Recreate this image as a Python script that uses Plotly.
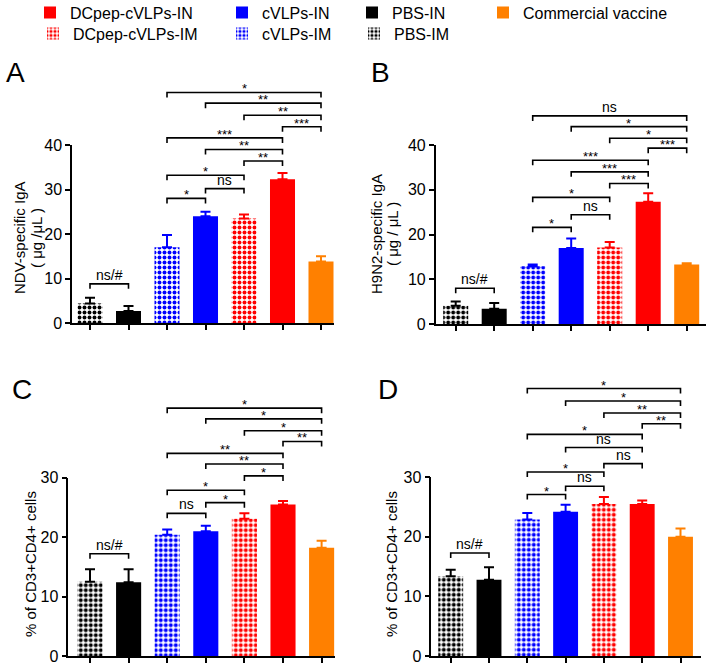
import plotly.graph_objects as go

# groups in plotting order (left to right)
groups = ['PBS-IM', 'PBS-IN', 'cVLPs-IM', 'cVLPs-IN',
          'DCpep-cVLPs-IM', 'DCpep-cVLPs-IN', 'Commercial vaccine']
colors = ['#000000', '#000000', '#0000FF', '#0000FF', '#FF0000', '#FF0000', '#FF8000']
checked = [True, False, True, False, True, False, False]

# A: NDV-specific IgA (ug/uL), mean and SD
ndv_iga = [4.4, 2.7, 17.0, 24.0, 23.5, 32.3, 13.8]
ndv_iga_sd = [1.3, 1.1, 2.8, 1.0, 0.9, 1.4, 1.2]
# B: H9N2-specific IgA (ug/uL)
h9n2_iga = [4.1, 3.4, 12.9, 17.0, 17.1, 27.3, 13.3]
h9n2_iga_sd = [0.9, 1.3, 0.4, 2.1, 1.2, 1.9, 0.3]
# C, D: % of CD3+CD4+ cells
cd4_c = [12.5, 12.4, 20.4, 21.0, 23.1, 25.5, 18.2]
cd4_c_sd = [2.1, 2.2, 0.9, 0.9, 0.9, 0.6, 1.2]
cd4_d = [13.4, 12.8, 22.9, 24.2, 25.5, 25.5, 20.0]
cd4_d_sd = [1.1, 2.1, 1.1, 1.2, 1.2, 0.6, 1.4]

# significance brackets: (from bar, to bar, height, label)
sig_a = [(0, 1, 8.8, 'ns/#'), (2, 3, 28.0, '*'), (3, 4, 30.2, 'ns'), (2, 4, 33.2, '*'),
         (4, 5, 36.4, '**'), (3, 5, 39.0, '**'), (2, 5, 41.6, '***'), (5, 6, 44.1, '***'),
         (4, 6, 46.7, '**'), (3, 6, 49.4, '**'), (2, 6, 51.8, '*')]
sig_b = [(0, 1, 8.0, 'ns/#'), (2, 3, 21.6, '*'), (3, 4, 24.4, 'ns'), (2, 4, 28.3, '*'),
         (4, 5, 31.4, '***'), (3, 5, 34.0, '***'), (2, 5, 36.6, '***'), (5, 6, 39.3, '***'),
         (4, 6, 41.5, '*'), (3, 6, 44.1, '*'), (2, 6, 46.5, 'ns')]
sig_c = [(0, 1, 17.2, 'ns/#'), (2, 3, 24.0, 'ns'), (3, 4, 25.8, '*'), (2, 4, 27.9, '*'),
         (4, 5, 30.3, '*'), (3, 5, 32.3, '**'), (2, 5, 34.1, '**'), (5, 6, 36.1, '**'),
         (4, 6, 37.9, '*'), (3, 6, 39.9, '*'), (2, 6, 41.7, '*')]
sig_d = [(0, 1, 17.3, 'ns/#'), (2, 3, 27.1, '*'), (3, 4, 28.5, 'ns'), (2, 4, 30.9, '*'),
         (4, 5, 32.3, 'ns'), (3, 5, 35.0, 'ns'), (2, 5, 37.2, '*'), (5, 6, 39.0, '**'),
         (4, 6, 40.8, '**'), (3, 6, 42.8, '*'), (2, 6, 44.9, '*')]

W, H = 707, 668
FONT = 'Liberation Sans, Arial, sans-serif'

# panel placement in pixels; y titles as (text, x centre) lines
panels = [
    dict(letter='A', y=ndv_iga, sd=ndv_iga_sd, sig=sig_a, ytop=40,
         ytitle=[('NDV-specific IgA', 20), ('( μg /μL )', 37)], ytitle_y=238,
         left=72, right=334, c0=90, dx=38.5, bottom=323, top=145, lab=(15, 73)),
    dict(letter='B', y=h9n2_iga, sd=h9n2_iga_sd, sig=sig_b, ytop=40,
         ytitle=[('H9N2-specific IgA', 376), ('( μg / μL )', 392)], ytitle_y=234,
         left=435.7, right=706, c0=455.7, dx=38.5, bottom=324, top=145, lab=(380, 73)),
    dict(letter='C', y=cd4_c, sd=cd4_c_sd, sig=sig_c, ytop=30,
         ytitle=[('% of CD3+CD4+ cells', 30)], ytitle_y=564,
         left=68.3, right=335, c0=90, dx=38.6, bottom=656, top=477.7, lab=(22, 389)),
    dict(letter='D', y=cd4_d, sd=cd4_d_sd, sig=sig_d, ytop=30,
         ytitle=[('% of CD3+CD4+ cells', 391)], ytitle_y=564,
         left=431.3, right=701, c0=450.7, dx=38.3, bottom=656, top=477.3, lab=(388, 389)),
]

# one small legend per entry: (legend id, text left x, row centre y)
legend_pos = {
    'DCpep-cVLPs-IN': ('legend', 70, 12.5), 'cVLPs-IN': ('legend2', 262, 12.5),
    'PBS-IN': ('legend3', 392, 12.5), 'Commercial vaccine': ('legend4', 523, 12.5),
    'DCpep-cVLPs-IM': ('legend5', 73, 33.5), 'cVLPs-IM': ('legend6', 262, 33.5),
    'PBS-IM': ('legend7', 394, 33.5),
}

fig = go.Figure()
shapes = []
annotations = []

for n, p in enumerate(panels, start=1):
    xa = 'x' if n == 1 else 'x%d' % n
    ya = 'y' if n == 1 else 'y%d' % n
    for k, g in enumerate(groups):
        pattern = dict(shape='.', size=5, solidity=0.5, fgcolor=colors[k],
                       bgcolor='white', fgopacity=1) if checked[k] else dict(shape='')
        fig.add_trace(go.Bar(
            x=[k], y=[p['y'][k]], width=0.65, name=g,
            marker=dict(color=colors[k], line=dict(width=0), pattern=pattern),
            error_y=dict(type='data', symmetric=False, array=[p['sd'][k]], arrayminus=[0],
                         color=colors[k], thickness=2, width=5),
            xaxis=xa, yaxis=ya,
            showlegend=(n == 1),
            legend=legend_pos[g][0],
        ))

    xdom = [p['left'] / W, p['right'] / W]
    ydom = [1 - p['bottom'] / H, 1 - p['top'] / H]
    xr = [(p['left'] - p['c0']) / p['dx'], (p['right'] - p['c0']) / p['dx']]
    axis_common = dict(showgrid=False, zeroline=False, showline=True, linecolor='black',
                       linewidth=1.5, ticks='outside', ticklen=5, tickwidth=1.5,
                       tickcolor='black', fixedrange=True)
    fig.layout['xaxis%d' % n if n > 1 else 'xaxis'] = dict(
        domain=xdom, range=xr, tickvals=list(range(len(groups))), showticklabels=False,
        anchor=ya, **axis_common)
    fig.layout['yaxis%d' % n if n > 1 else 'yaxis'] = dict(
        domain=ydom, range=[0, p['ytop']], tickvals=list(range(0, p['ytop'] + 1, 10)),
        tickfont=dict(size=16, color='black'), anchor=xa, **axis_common)

    # y axis title lines
    for text, tx in p['ytitle']:
        annotations.append(dict(x=tx / W, y=1 - p['ytitle_y'] / H, xref='paper', yref='paper',
                                text=text, textangle=-90, showarrow=False,
                                xanchor='center', yanchor='middle',
                                font=dict(size=15, color='black')))

    # significance brackets
    hpx = p['bottom'] - p['top']
    tip = 5.0 / hpx
    for i, j, h, lab in p['sig']:
        yh = h / p['ytop']
        shapes.append(dict(type='path', xref=xa, yref=ya + ' domain',
                           path='M %g,%g L %g,%g L %g,%g L %g,%g' % (i, yh - tip, i, yh, j, yh, j, yh - tip),
                           line=dict(color='black', width=1.6)))
        star = lab.startswith('*')
        annotations.append(dict(x=(i + j) / 2, y=yh, xref=xa, yref=ya + ' domain',
                                text=lab, showarrow=False, yanchor='bottom',
                                yshift=-6 if star else -1,
                                font=dict(size=13 if star else 14, color='black')))

    annotations.append(dict(x=p['lab'][0] / W, y=1 - p['lab'][1] / H, xref='paper', yref='paper',
                            text=p['letter'], showarrow=False, xanchor='center', yanchor='middle',
                            font=dict(size=28, color='black')))

legends = {}
for g, (lid, tx, ty) in legend_pos.items():
    legends[lid] = dict(orientation='v', xanchor='left', yanchor='middle',
                        x=(tx - 40) / W, y=1 - ty / H,
                        font=dict(size=16, color='black'), bgcolor='rgba(0,0,0,0)',
                        itemwidth=30)

fig.update_layout(
    width=W, height=H,
    margin=dict(l=0, r=0, t=0, b=0, autoexpand=False),
    paper_bgcolor='white', plot_bgcolor='white',
    font=dict(family=FONT, color='black'),
    barmode='overlay',
    shapes=shapes, annotations=annotations,
    **legends,
)

fig.write_html('out.html', config={'displayModeBar': False},
               post_script="document.body.style.margin='0';")
